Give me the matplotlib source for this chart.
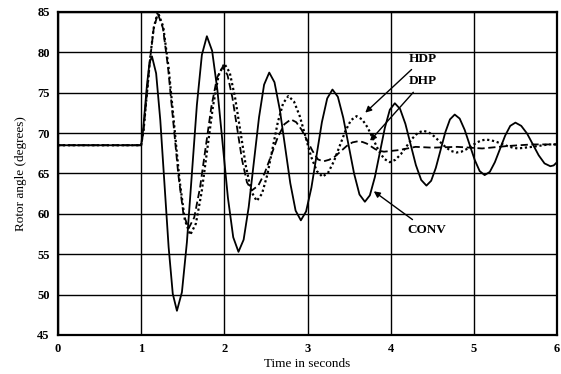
import matplotlib
matplotlib.use("Agg")
from matplotlib import pyplot as plt

# values (time in s, rotor angle in degrees)
t_conv = [0.0, 1.0, 1.02, 1.045, 1.07, 1.10, 1.13,
          1.18, 1.23, 1.28, 1.33, 1.38, 1.43,
          1.49, 1.55, 1.61, 1.67, 1.73, 1.79,
          1.853, 1.917, 1.98, 2.043, 2.107, 2.17,
          2.232, 2.293, 2.355, 2.417, 2.478, 2.54,
          2.603, 2.667, 2.73, 2.793, 2.857, 2.92,
          2.983, 3.047, 3.11, 3.173, 3.237, 3.30,
          3.365, 3.43, 3.495, 3.56, 3.625, 3.69,
          3.75, 3.81, 3.87, 3.93, 3.99, 4.05,
          4.113, 4.177, 4.24, 4.303, 4.367, 4.43,
          4.487, 4.543, 4.60, 4.657, 4.713, 4.77,
          4.83, 4.89, 4.95, 5.01, 5.07, 5.13,
          5.192, 5.253, 5.315, 5.377, 5.438, 5.50,
          5.57, 5.64, 5.71, 5.78, 5.85, 5.92,
          5.96, 6.0]
conv = [68.5, 68.5, 70.0, 73.0, 76.0, 78.7, 79.5,
        77.4, 71.6, 63.75, 55.9, 50.1, 48.0,
        50.3, 56.5, 65.0, 73.5, 79.7, 82.0,
        80.2, 75.3, 68.65, 62.0, 57.1, 55.3,
        56.8, 60.85, 66.4, 71.95, 76.0, 77.5,
        76.3, 72.9, 68.35, 63.8, 60.4, 59.2,
        60.3, 63.25, 67.3, 71.35, 74.3, 75.4,
        74.5, 71.9, 68.45, 65.0, 62.4, 61.5,
        62.3, 64.55, 67.6, 70.65, 72.9, 73.7,
        73.0, 71.15, 68.6, 66.05, 64.2, 63.5,
        64.1, 65.7, 67.9, 70.1, 71.7, 72.3,
        71.8, 70.4, 68.55, 66.7, 65.3, 64.8,
        65.2, 66.4, 68.05, 69.7, 70.9, 71.3,
        70.9, 69.95, 68.6, 67.25, 66.25, 65.9,
        66.0, 66.4]

t_hdp = [0.0, 1.0, 1.03, 1.07, 1.11, 1.15, 1.20,
         1.265, 1.33, 1.395, 1.46, 1.525, 1.59,
         1.658, 1.727, 1.795, 1.863, 1.932, 2.00,
         2.065, 2.13, 2.195, 2.26, 2.325, 2.39,
         2.453, 2.517, 2.58, 2.643, 2.707, 2.77,
         2.838, 2.907, 2.975, 3.043, 3.112, 3.18,
         3.248, 3.317, 3.385, 3.453, 3.522, 3.59,
         3.657, 3.723, 3.79, 3.857, 3.923, 3.99,
         4.057, 4.123, 4.19, 4.257, 4.323, 4.39,
         4.457, 4.523, 4.59, 4.657, 4.723, 4.79,
         4.85, 4.91, 4.97, 5.03, 5.09, 5.15,
         5.213, 5.277, 5.34, 5.403, 5.467, 5.53,
         5.7, 5.9, 6.0]
hdp = [68.5, 68.5, 70.5, 75.0, 79.5, 83.0, 85.0,
       83.2, 78.1, 71.2, 64.3, 59.25, 57.4,
       58.8, 62.7, 68.0, 73.3, 77.2, 78.6,
       77.5, 74.35, 70.1, 65.85, 62.75, 61.6,
       62.5, 64.85, 68.1, 71.35, 73.7, 74.6,
       73.9, 72.1, 69.6, 67.1, 65.3, 64.6,
       65.1, 66.5, 68.35, 70.2, 71.6, 72.1,
       71.7, 70.7, 69.25, 67.8, 66.8, 66.4,
       66.7, 67.4, 68.35, 69.3, 70.0, 70.3,
       70.1, 69.6, 68.95, 68.3, 67.8, 67.6,
       67.7, 68.0, 68.4, 68.8, 69.1, 69.2,
       69.1, 68.9, 68.65, 68.4, 68.2, 68.1,
       68.3, 68.6, 68.6]

t_dhp = [0.0, 1.0, 1.03, 1.07, 1.11, 1.15, 1.20,
         1.262, 1.323, 1.385, 1.447, 1.508, 1.57,
         1.638, 1.707, 1.775, 1.843, 1.912, 1.98,
         2.038, 2.097, 2.155, 2.213, 2.272, 2.33,
         2.408, 2.487, 2.565, 2.643, 2.722, 2.80,
         2.865, 2.93, 2.995, 3.06, 3.125, 3.19,
         3.26, 3.33, 3.40, 3.47, 3.54, 3.61,
         3.662, 3.713, 3.765, 3.817, 3.868, 3.92,
         4.1, 4.3, 4.5, 4.8, 5.1, 5.4, 5.7, 6.0]
dhp = [68.5, 68.5, 70.5, 75.0, 79.4, 82.9, 84.8,
       83.0, 78.15, 71.5, 64.85, 60.0, 58.2,
       59.55, 63.2, 68.2, 73.2, 76.85, 78.2,
       77.2, 74.4, 70.55, 66.7, 63.9, 62.9,
       63.5, 65.1, 67.3, 69.5, 71.1, 71.7,
       71.35, 70.4, 69.1, 67.8, 66.75, 66.5,
       66.7, 67.1, 67.75, 68.4, 68.85, 69.0,
       68.9, 68.7, 68.35, 68.0, 67.8, 67.7,
       67.9, 68.3, 68.2, 68.3, 68.1, 68.4, 68.6, 68.6]

x_ticks = [0, 1, 2, 3, 4, 5, 6]
y_ticks = [45, 50, 55, 60, 65, 70, 75, 80, 85]

plt.rcParams['font.family'] = ['Liberation Serif', 'DejaVu Serif']

fig = plt.figure(figsize=(5.61, 3.74), dpi=100)
ax = fig.add_axes([58 / 561, 1 - 335 / 374, 499 / 561, 323 / 374])

ax.plot(t_conv, conv, color='black', lw=1.3, solid_joinstyle='round')
ax.plot(t_hdp, hdp, color='black', lw=1.6, linestyle=(0, (1, 1.2)))
ax.plot(t_dhp, dhp, color='black', lw=1.3, linestyle=(0, (4, 2)))

ax.set_xlim(0, 6)
ax.set_ylim(45, 85)
ax.set_xticks(x_ticks)
ax.set_yticks(y_ticks)
ax.grid(True, color='black', lw=1.0)
ax.tick_params(length=0, labelsize=9, pad=6)
for lab in ax.get_xticklabels() + ax.get_yticklabels():
    lab.set_fontweight('bold')
for s in ax.spines.values():
    s.set_linewidth(1.6)

ax.set_xlabel("Time in seconds", fontsize=9.5, labelpad=2)
ax.set_ylabel("Rotor angle (degrees)", fontsize=9.5, labelpad=7)

arrow = dict(arrowstyle='-|>', color='black', lw=1.0, mutation_scale=9)
ax.annotate("HDP", xy=(3.67, 72.3), xytext=(4.22, 79.2), fontsize=9.5,
            fontweight='bold', ha='left', va='center', arrowprops=arrow)
ax.annotate("DHP", xy=(3.73, 68.8), xytext=(4.22, 76.4), fontsize=9.5,
            fontweight='bold', ha='left', va='center', arrowprops=arrow)
ax.annotate("CONV", xy=(3.77, 63.0), xytext=(4.2, 58.0), fontsize=9.5,
            fontweight='bold', ha='left', va='center', arrowprops=arrow)

fig.savefig("out.png", dpi=100)
